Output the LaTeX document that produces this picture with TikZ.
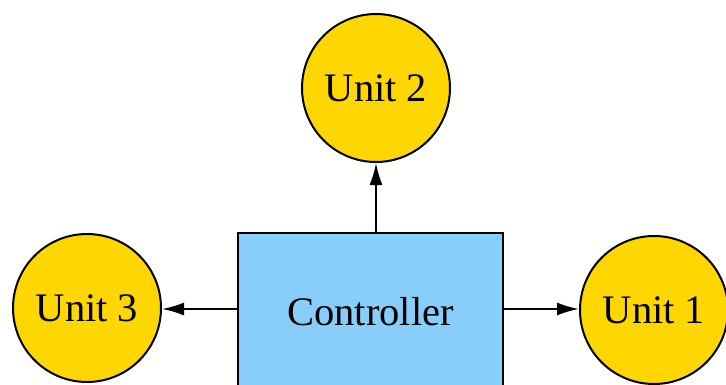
\documentclass[tikz,border=0pt]{standalone}
\usepackage{fontspec}
\setmainfont{Liberation Serif}
\usetikzlibrary{arrows.meta}

\definecolor{unitgold}{RGB}{255,215,0}
\definecolor{ctrlblue}{RGB}{135,206,250}

\tikzset{
  unit/.style={circle, draw=black, fill=unitgold, line width=2pt, minimum size=148pt, inner sep=0pt, font=\fontsize{40.5}{46}\selectfont},
  ctrl/.style={rectangle, draw=black, fill=ctrlblue, line width=2pt, minimum width=265pt, minimum height=158pt, inner sep=0pt, font=\fontsize{40.5}{46}\selectfont},
  link/.style={line width=2pt, -{Latex[length=22pt,width=13pt]}}
}

\begin{document}
\begin{tikzpicture}[x=1pt,y=-1pt]
\useasboundingbox (0,0) rectangle (726,384);
\clip (0,0) rectangle (726,384);
\node[ctrl] (ctrl) at (370.5,312) {Controller};
\node[unit] (u2) at (376,88) {Unit 2};
\node[unit] (u3) at (87,308) {Unit 3};
\node[unit] (u1) at (654,310) {Unit 1};
\draw[link] (ctrl.north -| u2) -- (u2);
\draw[link] (ctrl.west |- 0,309) -- (u3.east |- 0,309);
\draw[link] (ctrl.east |- 0,309) -- (u1.west |- 0,309);
\end{tikzpicture}
\end{document}
